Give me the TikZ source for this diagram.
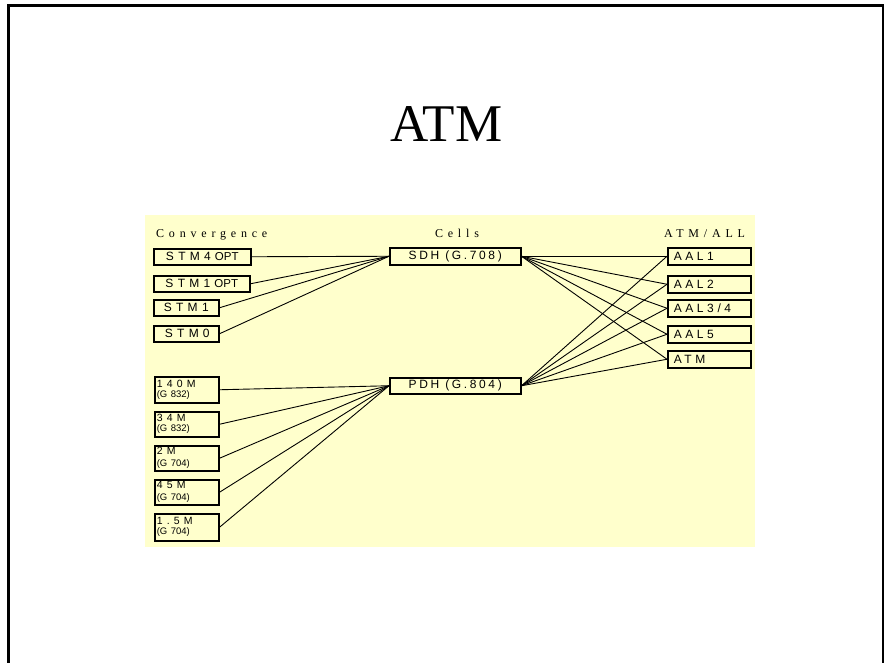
\documentclass[tikz,border=0pt]{standalone}
\usepackage{fontspec}
\setmainfont{Liberation Serif}
\newfontfamily\stmfont[LetterSpace=36]{Liberation Sans}
\newfontfamily\midfont[LetterSpace=22]{Liberation Sans}
\newfontfamily\aalfont[LetterSpace=30]{Liberation Sans}
\newfontfamily\mfont[LetterSpace=40]{Liberation Sans}
\newfontfamily\boxfontn{Liberation Sans}
\newfontfamily\headfont[LetterSpace=40]{Liberation Serif}
\definecolor{bgyellow}{RGB}{255,255,204}
\tikzset{
  boxbase/.style={draw, line width=1.5pt, fill=bgyellow, anchor=north west,
    inner ysep=0pt},
  lbox/.style n args={3}{boxbase, minimum height=#2, text width=#1-2*#3,
    inner xsep=#3, align=left},
  stmbox/.style 2 args={boxbase, minimum width=#1, minimum height=#2, inner xsep=0pt,
    font=\stmfont\fontsize{12}{13}\selectfont},
  aalbox/.style={lbox={83pt}{17pt}{6pt}, font=\aalfont\fontsize{12}{13}\selectfont},
  cbox/.style 2 args={boxbase, minimum width=#1, minimum height=#2, inner xsep=0pt,
    font=\midfont\fontsize{12}{13}\selectfont},
  sbox/.style={boxbase, minimum height=#1, text width=60pt, inner xsep=2pt,
    align=left, font=\mfont\fontsize{10.5}{11.5}\selectfont},
  head/.style={inner sep=0pt, anchor=base, font=\headfont\fontsize{12}{14}\selectfont},
  conn/.style={line width=0.9pt, black},
}
\newcommand{\subl}[1]{{\boxfontn\fontsize{9.5}{9}\selectfont #1}}
\newcommand{\optx}{\hspace{4pt}{\boxfontn\fontsize{11.5}{13}\selectfont OPT}}
\begin{document}
\begin{tikzpicture}[x=1pt,y=-1pt]
\useasboundingbox (0,0) rectangle (888,662);
% page frame
\draw[line width=2.2pt] (8.5,5.5) rectangle (883,720);
% title
\node[inner sep=0pt, anchor=base, font=\fontsize{53}{60}\selectfont] (title) at (446.5,141) {ATM};
% yellow panel
\fill[bgyellow] (145,215) rectangle (755,547);
% headings
\node[head, anchor=base west] (hconv) at (156,237) {Convergence};
\node[head] (hcells) at (457,237) {Cells};
\node[head, anchor=base west] (hatm) at (664,237) {ATM/ALL};
% left upper boxes
\node[stmbox={97pt}{16pt}] (stm4o) at (153,248) {STM4\optx};
\node[stmbox={96pt}{16pt}] (stm1o) at (153,275) {STM1\optx};
\node[stmbox={65pt}{16pt}] (stm1) at (153,299) {STM1};
\node[stmbox={65pt}{16pt}] (stm0) at (153,325) {\hspace{2pt}STM\hspace{4pt}0};
% left lower boxes
\node[sbox=26pt] (m140) at (154,376) {140M\\[-1.5pt]\subl{(G 832)}};
\node[sbox=25pt] (m34) at (154,411) {34M\\[-1.5pt]\subl{(G 832)}};
\node[sbox=25pt] (m2) at (154,445) {2M\\[0.5pt]\subl{(G 704)}};
\node[sbox=25pt] (m45) at (154,479) {45M\\[0.5pt]\subl{(G 704)}};
\node[sbox=27pt] (m15) at (154,513) {1.5M\\[-1.5pt]\subl{(G 704)}};
% middle boxes
\node[cbox={131pt}{17pt}] (sdh) at (389,247) {SDH (G.708)};
\node[cbox={131pt}{16pt}] (pdh) at (389,377) {PDH (G.804)};
% right boxes
\node[aalbox] (aal1) at (667,247) {AAL1};
\node[aalbox] (aal2) at (667,275) {AAL2};
\node[aalbox] (aal34) at (667,299) {AAL3/4};
\node[aalbox] (aal5) at (667,325) {AAL5};
\node[aalbox] (atm) at (667,350) {ATM};
% connectors left
\foreach \n in {stm4o,stm1o,stm1,stm0} \draw[conn] (\n.east) -- (sdh.west);
\foreach \n in {m140,m34,m2,m45,m15} \draw[conn] (\n.east) -- (pdh.west);
% connectors right
\foreach \n in {aal1,aal2,aal34,aal5,atm} {
  \draw[conn] (sdh.east) -- (\n.west);
  \draw[conn] (pdh.east) -- (\n.west);
}
\end{tikzpicture}
\end{document}
